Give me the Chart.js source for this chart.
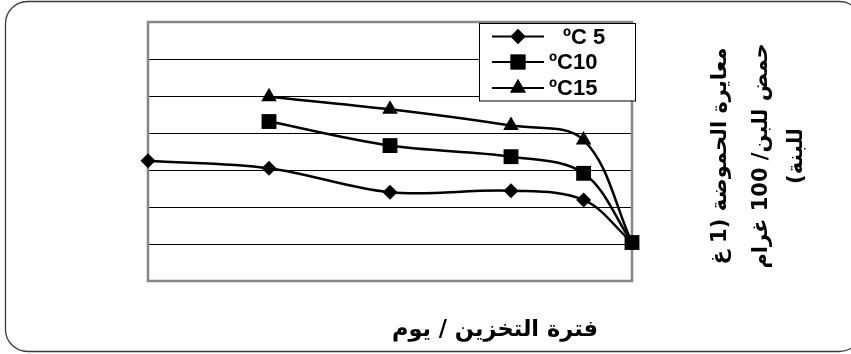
<!DOCTYPE html>
<html><head><meta charset="utf-8">
<script src="https://cdn.jsdelivr.net/npm/chart.js@4/dist/chart.umd.min.js"></script>
<style>html,body{margin:0;padding:0;background:#fff}canvas{display:block}</style>
</head><body>
<canvas id="c" width="851" height="354"></canvas>
<script>
// Storage time (days) and titratable acidity readings per storage temperature
const storageDays = [0, 5, 10, 15, 18, 20];
const acidity5C  = [3.25, 3.05, 2.40, 2.44, 2.19, 1.04];
const acidity10C = [null, 4.31, 3.66, 3.36, 2.91, 1.04];
const acidity15C = [null, 4.98, 4.64, 4.20, 3.81, 1.04];
const seriesLabels = ['ºC 5', 'ºC10', 'ºC15'];
const xTitle = 'فترة التخزين / يوم';
const yTitleLines = ['معايرة الحموضة (1 غ', 'حمض للبن/ 100 غرام', 'للبنة)'];

const toPoints = vals => storageDays
  .map((d, i) => ({ x: d, y: vals[i] }))
  .filter(p => p.y !== null);

const FONT = 'Arial, "Liberation Sans", "DejaVu Sans", sans-serif';
const AR_FONT = '"DejaVu Sans", Arial, sans-serif';
const styles = [
  { pointStyle: 'rectRot', r: 7.5, hideLast: true, order: 2 },
  { pointStyle: 'rect', r: 10.5, hideLast: false, order: 0 },
  { pointStyle: 'triangle', r: 9, hideLast: true, order: 1 }
];
const seriesValues = [acidity5C, acidity10C, acidity15C];

const datasets = seriesValues.map((vals, k) => {
  const pts = toPoints(vals);
  const st = styles[k];
  return {
    label: seriesLabels[k],
    data: pts,
    borderColor: '#000',
    backgroundColor: '#000',
    borderWidth: 2.5,
    tension: 0.35,
    pointStyle: st.pointStyle,
    pointRadius: c => (st.hideLast && c.dataIndex === pts.length - 1) ? 0 : st.r,
    pointBorderWidth: 0,
    pointBackgroundColor: '#000',
    order: st.order,
    clip: false
  };
});

const decor = {
  id: 'decor',
  beforeDraw(chart) {
    const ctx = chart.ctx;
    ctx.save();
    ctx.fillStyle = '#fff';
    ctx.fillRect(0, 0, chart.width, chart.height);
    // rounded outer frame
    ctx.beginPath();
    ctx.roundRect(5.5, 1.5, 856, 350, 22);
    ctx.strokeStyle = '#3a3a3a';
    ctx.lineWidth = 1.3;
    ctx.stroke();
    ctx.restore();
  },
  beforeDatasetsDraw(chart) {
    const { ctx, chartArea: a } = chart;
    ctx.save();
    ctx.strokeStyle = '#868686';
    ctx.lineWidth = 2.5;
    ctx.strokeRect(a.left, a.top, a.right - a.left, a.bottom - a.top);
    ctx.restore();
  },
  afterDraw(chart) {
    const ctx = chart.ctx;
    ctx.save();
    // legend box
    const lx = 479.5, ly = 23.5, lw = 156, lh = 77.5;
    ctx.fillStyle = '#fff';
    ctx.fillRect(lx, ly, lw, lh);
    ctx.strokeStyle = '#000';
    ctx.lineWidth = 1;
    ctx.strokeRect(lx, ly, lw, lh);
    const rowsY = [36.5, 62, 88];
    const textX = [563, 549, 549];
    ctx.font = 'bold 22px ' + FONT;
    ctx.textBaseline = 'middle';
    ctx.textAlign = 'left';
    rowsY.forEach((y, k) => {
      ctx.strokeStyle = '#000';
      ctx.lineWidth = 2;
      ctx.beginPath();
      ctx.moveTo(492, y);
      ctx.lineTo(544, y);
      ctx.stroke();
      ctx.fillStyle = '#000';
      Chart.helpers.drawPoint(ctx, {
        pointStyle: styles[k].pointStyle, radius: styles[k].r, borderWidth: 0, rotation: 0
      }, 518, y);
      ctx.fill();
      ctx.fillText(seriesLabels[k], textX[k], y + 1);
    });
    // x-axis title
    ctx.direction = 'rtl';
    ctx.textAlign = 'center';
    ctx.font = 'bold 22.5px ' + AR_FONT;
    ctx.fillText(xTitle, 495, 330);
    // y-axis title, rotated
    ctx.font = 'bold 21px ' + AR_FONT;
    ctx.translate(760, 156);
    ctx.rotate(-Math.PI / 2);
    const lineX = [-39, 2, 37];
    yTitleLines.forEach((t, i) => ctx.fillText(t, 0, lineX[i]));
    ctx.restore();
  }
};

new Chart(document.getElementById('c'), {
  type: 'line',
  data: { datasets },
  options: {
    responsive: false,
    animation: false,
    devicePixelRatio: 1,
    layout: { padding: { left: 148, top: 22, right: 219, bottom: 73 } },
    plugins: { legend: { display: false }, tooltip: { enabled: false } },
    scales: {
      x: {
        type: 'linear', min: 0, max: 20,
        ticks: { display: false },
        grid: { display: false, drawTicks: false },
        border: { display: false },
        afterFit(s) { s.height = 0; }
      },
      y: {
        min: 0, max: 7,
        ticks: { display: false, stepSize: 1 },
        grid: { color: '#000', lineWidth: 1, drawTicks: false },
        border: { display: false },
        afterFit(s) { s.width = 0; }
      }
    }
  },
  plugins: [decor]
});
</script>
</body></html>
